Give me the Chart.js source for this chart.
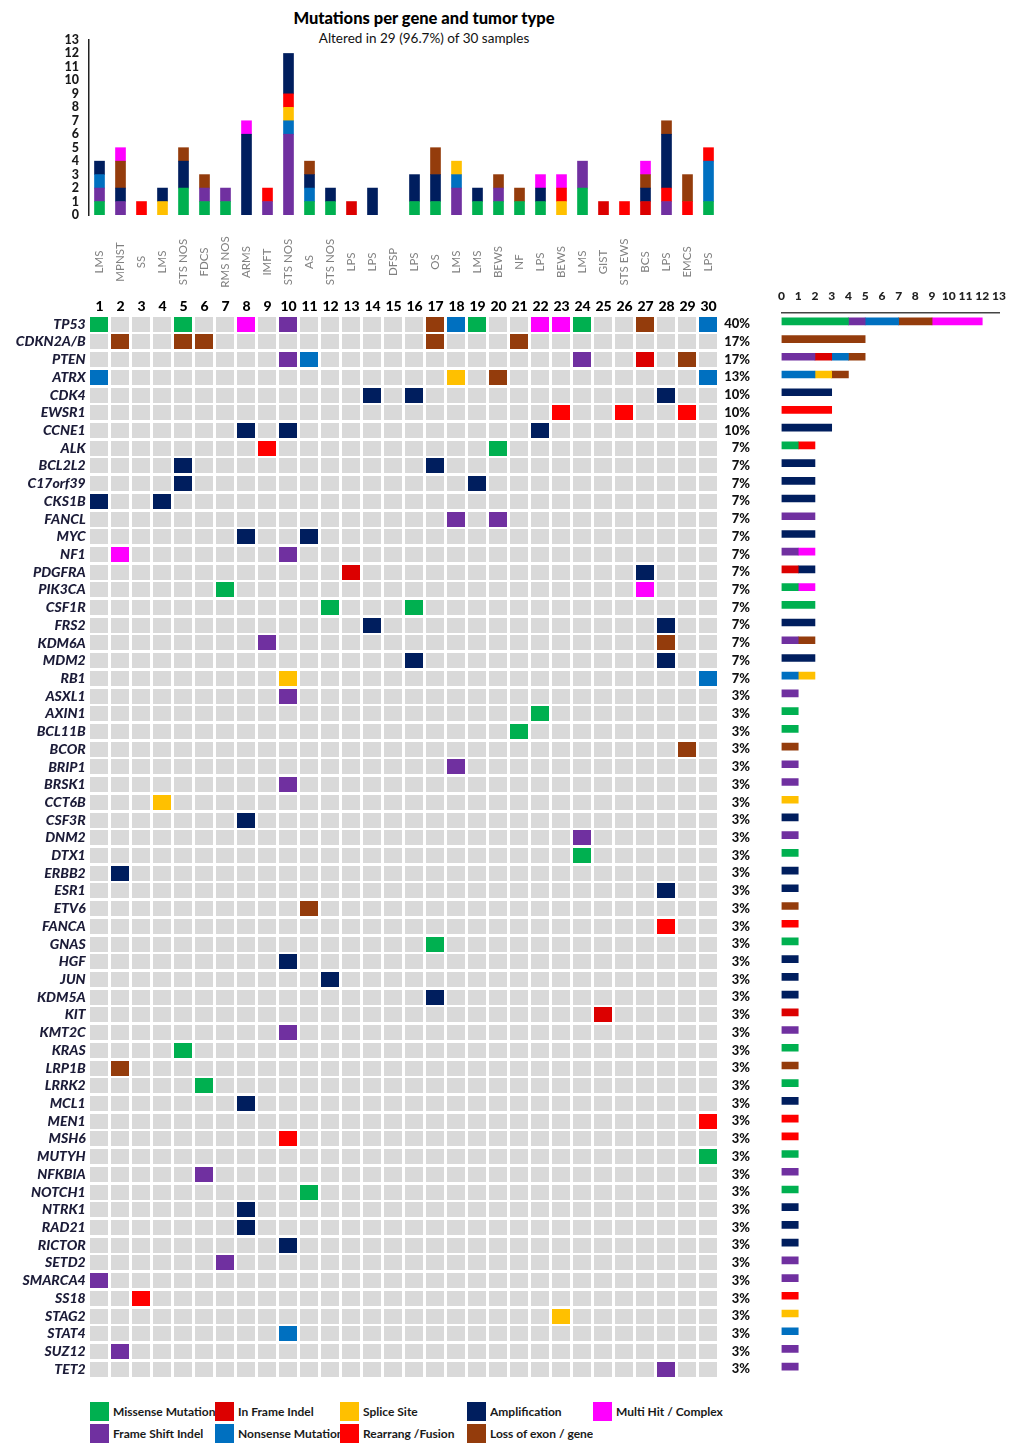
<!DOCTYPE html>
<html>
<head>
<meta charset="utf-8">
<script src="https://cdn.jsdelivr.net/npm/chart.js@4.4.1/dist/chart.umd.min.js"></script>
<style>
  body { margin: 0; background: #fff; width: 1017px; height: 1443px; position: relative; overflow: hidden; font-family: Lato, "Open Sans", sans-serif; }
  canvas { position: absolute; }
  #title { position: absolute; left: 0; width: 848px; top: 8px; text-align: center; font-weight: 900; font-size: 16.5px; color: #000; }
  #subtitle { position: absolute; left: 0; width: 848px; top: 30px; text-align: center; font-size: 13.5px; color: #111; }
  .leg { position: absolute; height: 20px; display: flex; align-items: center; }
  .leg i { display: block; width: 19px; height: 19px; margin-right: 4px; }
  .leg span { display: block; overflow: hidden; white-space: nowrap; font-weight: bold; font-size: 12px; color: #1a1a1a; }
</style>
</head>
<body>
<div id="title">Mutations per gene and tumor type</div>
<div id="subtitle">Altered in 29 (96.7%) of 30 samples</div>
<canvas id="sampleChart" width="760" height="320" style="left:0;top:0"></canvas>
<canvas id="gridChart" width="760" height="1090" style="left:0;top:300px"></canvas>
<canvas id="geneChart" width="317" height="1120" style="left:700px;top:270px"></canvas>
<div id="legend"></div>
<script>
// 样本与基因
const samples = ['1','2','3','4','5','6','7','8','9','10','11','12','13','14','15','16','17','18','19','20','21','22','23','24','25','26','27','28','29','30'];
const tumorTypes = ['LMS','MPNST','SS','LMS','STS NOS','FDCS','RMS NOS','ARMS','IMFT','STS NOS','AS','STS NOS','LPS','LPS','DFSP','LPS','OS','LMS','LMS','BEWS','NF','LPS','BEWS','LMS','GIST','STS EWS','BCS','LPS','EMCS','LPS'];
const genes = ['TP53','CDKN2A/B','PTEN','ATRX','CDK4','EWSR1','CCNE1','ALK','BCL2L2','C17orf39','CKS1B','FANCL','MYC','NF1','PDGFRA','PIK3CA','CSF1R','FRS2','KDM6A','MDM2','RB1',
  'ASXL1','AXIN1','BCL11B','BCOR','BRIP1','BRSK1','CCT6B','CSF3R','DNM2','DTX1','ERBB2','ESR1','ETV6','FANCA','GNAS','HGF','JUN','KDM5A','KIT','KMT2C','KRAS','LRP1B','LRRK2','MCL1',
  'MEN1','MSH6','MUTYH','NFKBIA','NOTCH1','NTRK1','RAD21','RICTOR','SETD2','SMARCA4','SS18','STAG2','STAT4','SUZ12','TET2'];
const xTicksTop = [0,1,2,3,4,5,6,7,8,9,10,11,12,13];

// 各类突变: [基因, 样本号]
const missense = [['TP53',1],['TP53',5],['TP53',19],['TP53',24],['ALK',20],['PIK3CA',7],['CSF1R',12],['CSF1R',16],['AXIN1',22],['BCL11B',21],['DTX1',24],['GNAS',17],['KRAS',5],['LRRK2',6],['MUTYH',30],['NOTCH1',11]];
const frameShift = [['TP53',10],['PTEN',10],['PTEN',24],['FANCL',18],['FANCL',20],['NF1',10],['KDM6A',9],['ASXL1',10],['BRIP1',18],['BRSK1',10],['DNM2',24],['KMT2C',10],['NFKBIA',6],['SETD2',7],['SMARCA4',1],['SUZ12',2],['TET2',28]];
const nonsense = [['TP53',18],['TP53',30],['PTEN',11],['ATRX',1],['ATRX',30],['RB1',30],['STAT4',10]];
const splice = [['ATRX',18],['RB1',10],['CCT6B',4],['STAG2',23]];
const inFrame = [['PTEN',27],['PDGFRA',13],['KIT',25]];
const rearrang = [['ALK',9],['EWSR1',23],['EWSR1',26],['EWSR1',29],['FANCA',28],['MEN1',30],['MSH6',10],['SS18',3]];
const amplification = [['CDK4',14],['CDK4',16],['CDK4',28],['CCNE1',8],['CCNE1',10],['CCNE1',22],['BCL2L2',5],['BCL2L2',17],['C17orf39',5],['C17orf39',19],['CKS1B',1],['CKS1B',4],
  ['MYC',8],['MYC',11],['PDGFRA',27],['FRS2',14],['FRS2',28],['MDM2',16],['MDM2',28],['CSF3R',8],['ERBB2',2],['ESR1',28],['HGF',10],['JUN',12],['KDM5A',17],['MCL1',8],['NTRK1',8],['RAD21',8],['RICTOR',10]];
const lossExon = [['TP53',17],['TP53',27],['CDKN2A/B',2],['CDKN2A/B',5],['CDKN2A/B',6],['CDKN2A/B',17],['CDKN2A/B',21],['PTEN',29],['ATRX',20],['KDM6A',28],['BCOR',29],['ETV6',11],['LRP1B',2]];
const multiHit = [['TP53',8],['TP53',22],['TP53',23],['NF1',2],['PIK3CA',27]];

const T = {
  missense:   { label: 'Missense Mutation',   color: '#00B050', cells: missense },
  frameShift: { label: 'Frame Shift Indel',   color: '#7030A0', cells: frameShift },
  inFrame:    { label: 'In Frame Indel',      color: '#DC0000', cells: inFrame },
  nonsense:   { label: 'Nonsense Mutation',   color: '#0070C0', cells: nonsense },
  splice:     { label: 'Splice Site',         color: '#FFC000', cells: splice },
  rearrang:   { label: 'Rearrang /Fusion',    color: '#FF0000', cells: rearrang },
  amp:        { label: 'Amplification',       color: '#001E5E', cells: amplification },
  loss:       { label: 'Loss of exon / gene', color: '#943C0C', cells: lossExon },
  multi:      { label: 'Multi Hit / Complex', color: '#FF00FF', cells: multiHit }
};
const FONT = 'Lato, "Open Sans", sans-serif';

// 计数 (0 -> null, 不画空段)
const bySample = cells => samples.map(s => cells.filter(c => c[1] === +s).length || null);
const byGene = cells => genes.map(g => cells.filter(c => c[0] === g).length || null);
const geneTotals = genes.map(g => Object.values(T).reduce((n, t) => n + t.cells.filter(c => c[0] === g).length, 0));
const pctLabels = geneTotals.map(n => Math.round(n / samples.length * 100) + '%');

// 上方: 每个样本的突变数
const sampleLabels = {
  id: 'sampleLabels',
  afterDraw(chart) {
    const { ctx, scales: { x } } = chart;
    samples.forEach((s, i) => {
      const px = x.getPixelForValue(i);
      ctx.save();
      ctx.translate(px, 262);
      ctx.rotate(-Math.PI / 2);
      ctx.font = '11.5px ' + FONT;
      ctx.fillStyle = '#808080';
      ctx.textAlign = 'center';
      ctx.textBaseline = 'middle';
      ctx.fillText(tumorTypes[i], 0, 0);
      ctx.restore();
      ctx.save();
      ctx.font = '900 14px ' + FONT;
      ctx.fillStyle = '#000';
      ctx.textAlign = 'center';
      ctx.textBaseline = 'middle';
      ctx.fillText(s, px, 306);
      ctx.restore();
    });
  }
};

const topOrder = ['missense', 'frameShift', 'nonsense', 'splice', 'inFrame', 'rearrang', 'amp', 'loss', 'multi'];
new Chart(document.getElementById('sampleChart'), {
  type: 'bar',
  data: {
    labels: samples,
    datasets: topOrder.map(k => ({ label: T[k].label, data: bySample(T[k].cells), backgroundColor: T[k].color, borderWidth: 0, barThickness: 10 }))
  },
  options: {
    responsive: false, animation: false, events: [],
    layout: { padding: { left: 0, right: 41, top: 40, bottom: 105 } },
    plugins: { legend: { display: false }, tooltip: { enabled: false } },
    scales: {
      x: { stacked: true, display: false },
      y: {
        stacked: true, min: 0, max: 13,
        afterFit: s => { s.width = 89; },
        grid: { display: false, drawTicks: false },
        border: { display: true, color: '#222', width: 1.5 },
        ticks: { stepSize: 1, autoSkip: false, padding: 10, color: '#1a1a1a', font: { family: FONT, size: 12.5, weight: '900' } }
      }
    }
  },
  plugins: [sampleLabels]
});

// 中间: 基因 x 样本矩阵
function cellImage(color) {
  const c = document.createElement('canvas');
  c.width = 18; c.height = 15;
  const g = c.getContext('2d');
  g.fillStyle = color;
  g.fillRect(0, 0, 18, 15);
  return c;
}
const allCells = [];
genes.forEach(g => samples.forEach(s => allCells.push({ x: +s, y: g })));
const gridSets = Object.values(T).map(t => ({
  label: t.label,
  data: t.cells.map(([g, s]) => ({ x: s, y: g })),
  pointStyle: cellImage(t.color), radius: 5
}));
gridSets.push({ label: 'none', data: allCells, pointStyle: cellImage('#D9D9D9'), radius: 5 });

new Chart(document.getElementById('gridChart'), {
  type: 'scatter',
  data: { datasets: gridSets },
  options: {
    responsive: false, animation: false, events: [],
    layout: { padding: { left: 0, right: 10, top: 15.3, bottom: 11.9 } },
    plugins: { legend: { display: false }, tooltip: { enabled: false } },
    scales: {
      x: { type: 'linear', min: 0.5, max: 30.5, display: false },
      y: {
        type: 'category', labels: genes, offset: true,
        afterFit: s => { s.width = 88.7; },
        grid: { display: false, drawTicks: false },
        border: { display: false },
        ticks: { autoSkip: false, padding: 3, color: '#1c1c38', font: { family: FONT, size: 14, weight: '900', style: 'italic' } }
      },
      pct: {
        type: 'category', axis: 'y', position: 'right', labels: pctLabels, offset: true,
        afterFit: s => { s.width = 31; },
        grid: { display: false, drawTicks: false },
        border: { display: false },
        ticks: { autoSkip: false, padding: 0, crossAlign: 'far', color: '#111', font: { family: FONT, size: 13, weight: '900' } }
      }
    }
  }
});

// 右侧: 每个基因的突变数
const geneOrder = ['missense', 'frameShift', 'inFrame', 'rearrang', 'nonsense', 'splice', 'amp', 'loss', 'multi'];
new Chart(document.getElementById('geneChart'), {
  type: 'bar',
  data: {
    labels: genes,
    datasets: geneOrder.map(k => ({ label: T[k].label, data: byGene(T[k].cells), backgroundColor: T[k].color, borderWidth: 0, barThickness: 7 }))
  },
  options: {
    indexAxis: 'y',
    responsive: false, animation: false, events: [],
    layout: { padding: { left: 81.5, right: 18, top: 0, bottom: 14.5 } },
    plugins: { legend: { display: false }, tooltip: { enabled: false } },
    scales: {
      x: {
        stacked: true, position: 'top', min: xTicksTop[0], max: xTicksTop[xTicksTop.length - 1],
        afterFit: s => { s.height = 42.5; },
        grid: { display: false, drawTicks: false },
        border: { display: true, color: '#444', width: 1.5 },
        ticks: { stepSize: 1, autoSkip: false, maxRotation: 0, minRotation: 0, padding: 9, color: '#222', font: { family: FONT, size: 12, weight: '900' } }
      },
      y: { stacked: true, display: false }
    }
  }
});

// 图例
const legendRows = [['missense', 'inFrame', 'splice', 'amp', 'multi'], ['frameShift', 'nonsense', 'rearrang', 'loss']];
const legendX = [90, 215, 340, 467, 593, 740];
const legendY = [1401, 1423];
const legend = document.getElementById('legend');
legendRows.forEach((row, r) => row.forEach((k, c) => {
  const d = document.createElement('div');
  d.className = 'leg';
  d.style.left = legendX[c] + 'px';
  d.style.top = legendY[r] + 'px';
  d.innerHTML = '<i style="background:' + T[k].color + '"></i><span style="max-width:' + (legendX[c + 1] - legendX[c] - 23) + 'px">' + T[k].label + '</span>';
  legend.appendChild(d);
}));
</script>
</body>
</html>
